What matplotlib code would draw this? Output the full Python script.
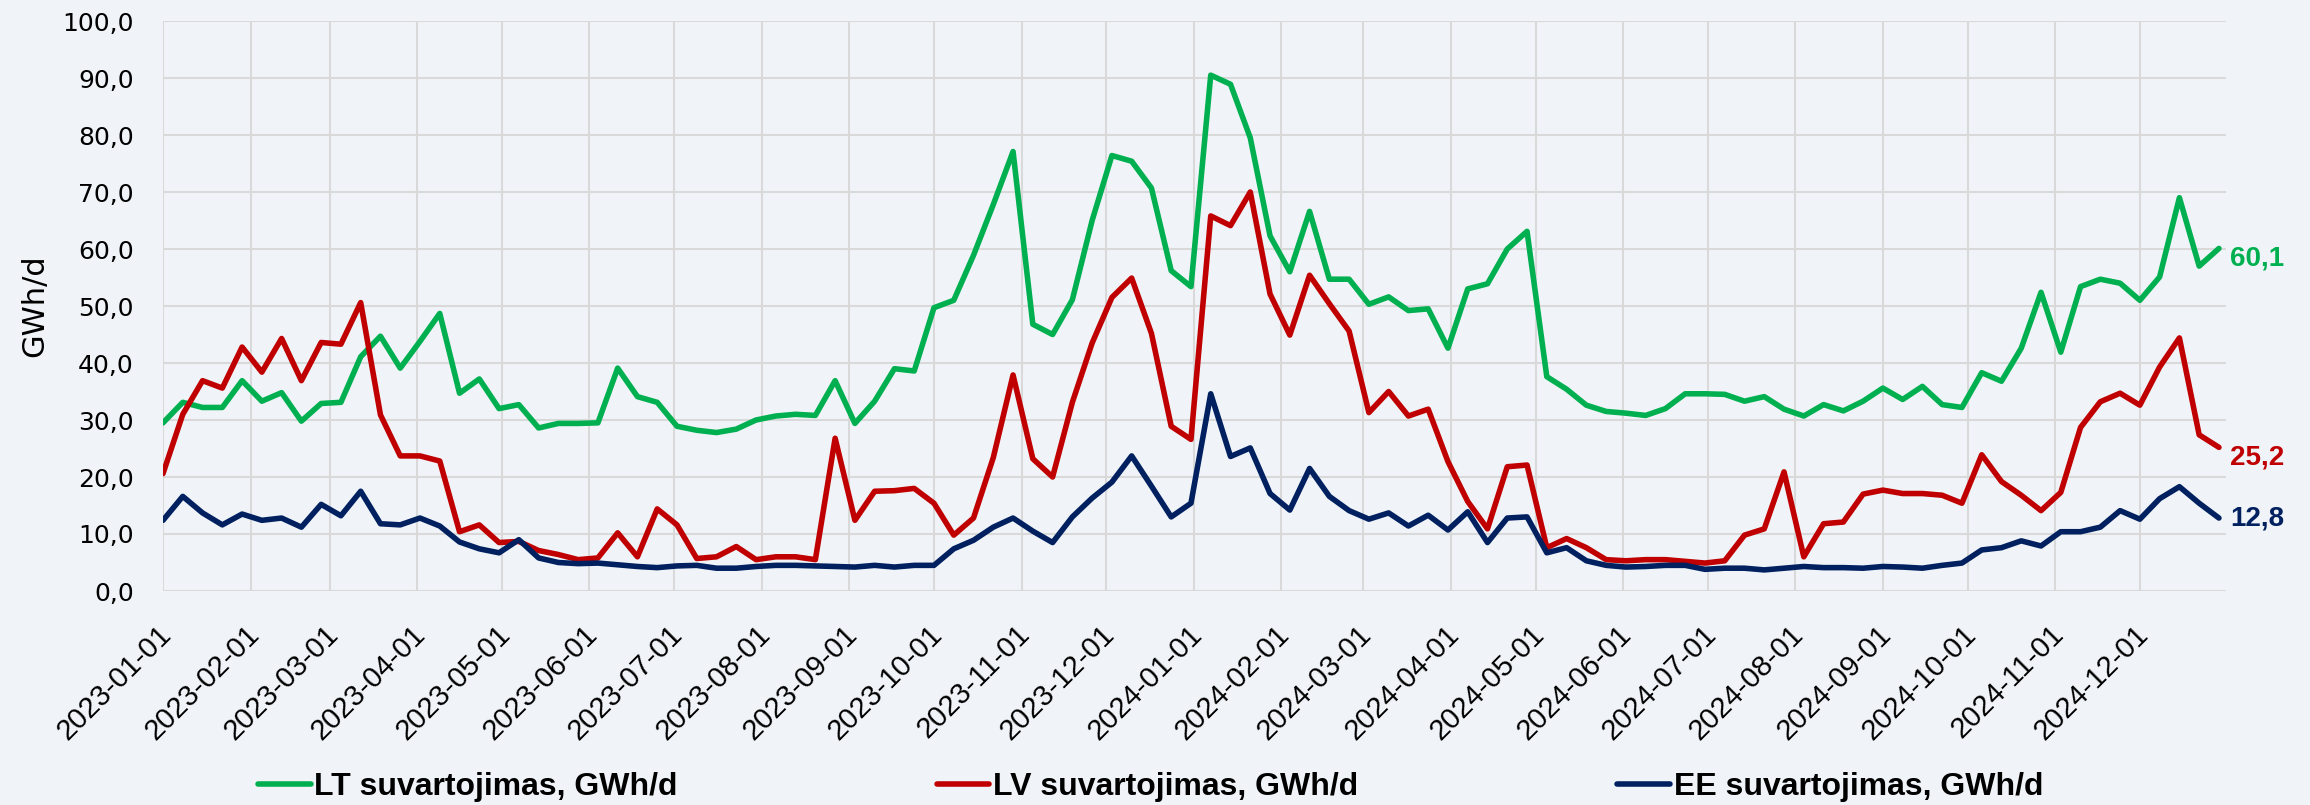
import matplotlib
matplotlib.use("Agg")
import matplotlib.pyplot as plt
import matplotlib.transforms as mtransforms
import pandas as pd

### Duomenys (savaitiniai, GWh/d) ###
dates = pd.date_range("2023-01-01", periods=105, freq="7D")

lt = [29.5, 33.1, 32.2, 32.2, 36.9, 33.3, 34.8, 29.8, 32.9, 33.1, 41.1, 44.7, 39.1, 43.8, 48.7,
      34.7, 37.2, 32.0, 32.7, 28.6, 29.4, 29.4, 29.5, 39.1, 34.1, 33.1, 28.9, 28.2, 27.8, 28.4,
      30.0, 30.7, 31.0, 30.8, 36.9, 29.4, 33.3, 39.0, 38.6, 49.7, 51.0, 58.9, 67.8, 77.1, 46.8,
      45.0, 51.1, 65.0, 76.4, 75.4, 70.7, 56.2, 53.4, 90.5, 88.9, 79.5, 62.3, 56.0, 66.6, 54.7,
      54.7, 50.3, 51.6, 49.2, 49.5, 42.6, 53.0, 53.9, 60.0, 63.1, 37.6, 35.4, 32.6, 31.5, 31.2,
      30.8, 32.0, 34.6, 34.6, 34.5, 33.3, 34.1, 31.9, 30.7, 32.7, 31.6, 33.3, 35.6, 33.6, 35.9,
      32.7, 32.2, 38.3, 36.8, 42.6, 52.4, 41.9, 53.4, 54.7, 54.0, 51.0, 55.1, 69.0, 57.0, 60.1]

lv = [20.6, 31.0, 36.9, 35.6, 42.8, 38.4, 44.3, 36.9, 43.6, 43.3, 50.6, 30.9, 23.7, 23.7, 22.8,
      10.4, 11.6, 8.5, 8.7, 7.1, 6.4, 5.5, 5.8, 10.2, 6.0, 14.4, 11.6, 5.7, 6.0, 7.8,
      5.5, 6.0, 6.0, 5.5, 26.8, 12.4, 17.5, 17.6, 18.0, 15.4, 9.8, 12.8, 23.4, 37.9, 23.2,
      20.0, 33.1, 43.5, 51.5, 54.9, 45.2, 28.9, 26.6, 65.8, 64.1, 70.0, 52.1, 44.9, 55.4, 50.4,
      45.6, 31.3, 35.0, 30.7, 31.9, 22.7, 15.7, 10.9, 21.8, 22.1, 7.6, 9.2, 7.6, 5.5, 5.3,
      5.5, 5.5, 5.2, 4.9, 5.3, 9.8, 10.9, 20.9, 6.0, 11.8, 12.1, 17.0, 17.7, 17.1, 17.1,
      16.8, 15.4, 23.9, 19.2, 16.8, 14.1, 17.3, 28.7, 33.2, 34.7, 32.6, 39.3, 44.4, 27.4, 25.2]

ee = [12.4, 16.6, 13.7, 11.6, 13.5, 12.4, 12.8, 11.2, 15.2, 13.2, 17.5, 11.8, 11.6, 12.8, 11.4,
      8.6, 7.4, 6.7, 9.0, 5.8, 5.0, 4.8, 4.9, 4.6, 4.3, 4.1, 4.4, 4.5, 4.0, 4.0,
      4.3, 4.5, 4.5, 4.4, 4.3, 4.2, 4.5, 4.2, 4.5, 4.5, 7.4, 8.9, 11.2, 12.8, 10.5,
      8.5, 13.0, 16.3, 19.1, 23.7, 18.4, 13.0, 15.4, 34.6, 23.6, 25.1, 17.1, 14.2, 21.5, 16.6,
      14.1, 12.6, 13.7, 11.4, 13.3, 10.7, 13.9, 8.5, 12.8, 13.0, 6.7, 7.6, 5.3, 4.5, 4.2,
      4.3, 4.5, 4.5, 3.8, 4.0, 4.0, 3.7, 4.0, 4.3, 4.1, 4.1, 4.0, 4.3, 4.2, 4.0,
      4.5, 4.9, 7.2, 7.6, 8.8, 7.9, 10.4, 10.4, 11.2, 14.1, 12.6, 16.2, 18.3, 15.4, 12.8]

series_names = ["LT suvartojimas, GWh/d", "LV suvartojimas, GWh/d", "EE suvartojimas, GWh/d"]
series_colors = ["#00B050", "#C00000", "#002060"]
month_ticks = pd.date_range("2023-01-01", "2024-12-01", freq="MS")

bg = "#F0F4F8"
W, H = 2310, 805

### Grafikas ###
fig = plt.figure(figsize=(W / 100, H / 100), dpi=100, facecolor=bg)
ax = fig.add_axes([163 / W, 1 - 591 / H, (2226 - 163) / W, (591 - 21) / H])
ax.set_facecolor(bg)

# paskutines reiksmes etiketes
label_dy = [-7, -7, 0]
for vals, name, col, dy in zip([lt, lv, ee], series_names, series_colors, label_dy):
    ax.plot(dates, vals, color=col, lw=4, label=name, solid_capstyle="round")
    ax.annotate(f"{vals[-1]:.1f}".replace(".", ","), xy=(dates[-1], vals[-1]),
                xytext=(8, dy), textcoords="offset points", color=col,
                fontsize=20, fontweight="bold", family="Liberation Sans",
                ha="left", va="center")

ax.set_xlim(dates[0], dates[-1] + pd.Timedelta(days=2.5))
ax.set_ylim(0, 100)
ax.set_yticks(range(0, 101, 10))
ax.set_yticklabels([f"{v:.1f}".replace(".", ",") for v in range(0, 101, 10)], fontsize=18)
ax.set_xticks(month_ticks)
ax.set_xticklabels([d.strftime("%Y-%m-%d") for d in month_ticks], rotation=45, ha="right",
                   va="center", rotation_mode="anchor", fontsize=21, family="Liberation Sans")
ax.tick_params(axis="x", length=0, pad=28)
ax.tick_params(axis="y", length=0, pad=21)
shift = mtransforms.ScaledTranslation(4 / 100, 0, fig.dpi_scale_trans)
for lab in ax.get_xticklabels():
    lab.set_transform(lab.get_transform() + shift)

ax.set_ylabel("GWh/d", fontsize=22)
ax.yaxis.set_label_coords(-0.055, 0.5)

ax.grid(True, color="#D9D9D9", lw=1.5)
ax.set_axisbelow(True)
for s in ax.spines.values():
    s.set_visible(False)

fig.legend(loc="center", bbox_to_anchor=(0.498, 0.022), ncol=3, frameon=False,
           prop={"family": "Liberation Sans", "weight": "bold", "size": 23},
           handlelength=1.65, handletextpad=0.12, columnspacing=8.1)

fig.savefig("out.png", dpi=100, facecolor=bg)
